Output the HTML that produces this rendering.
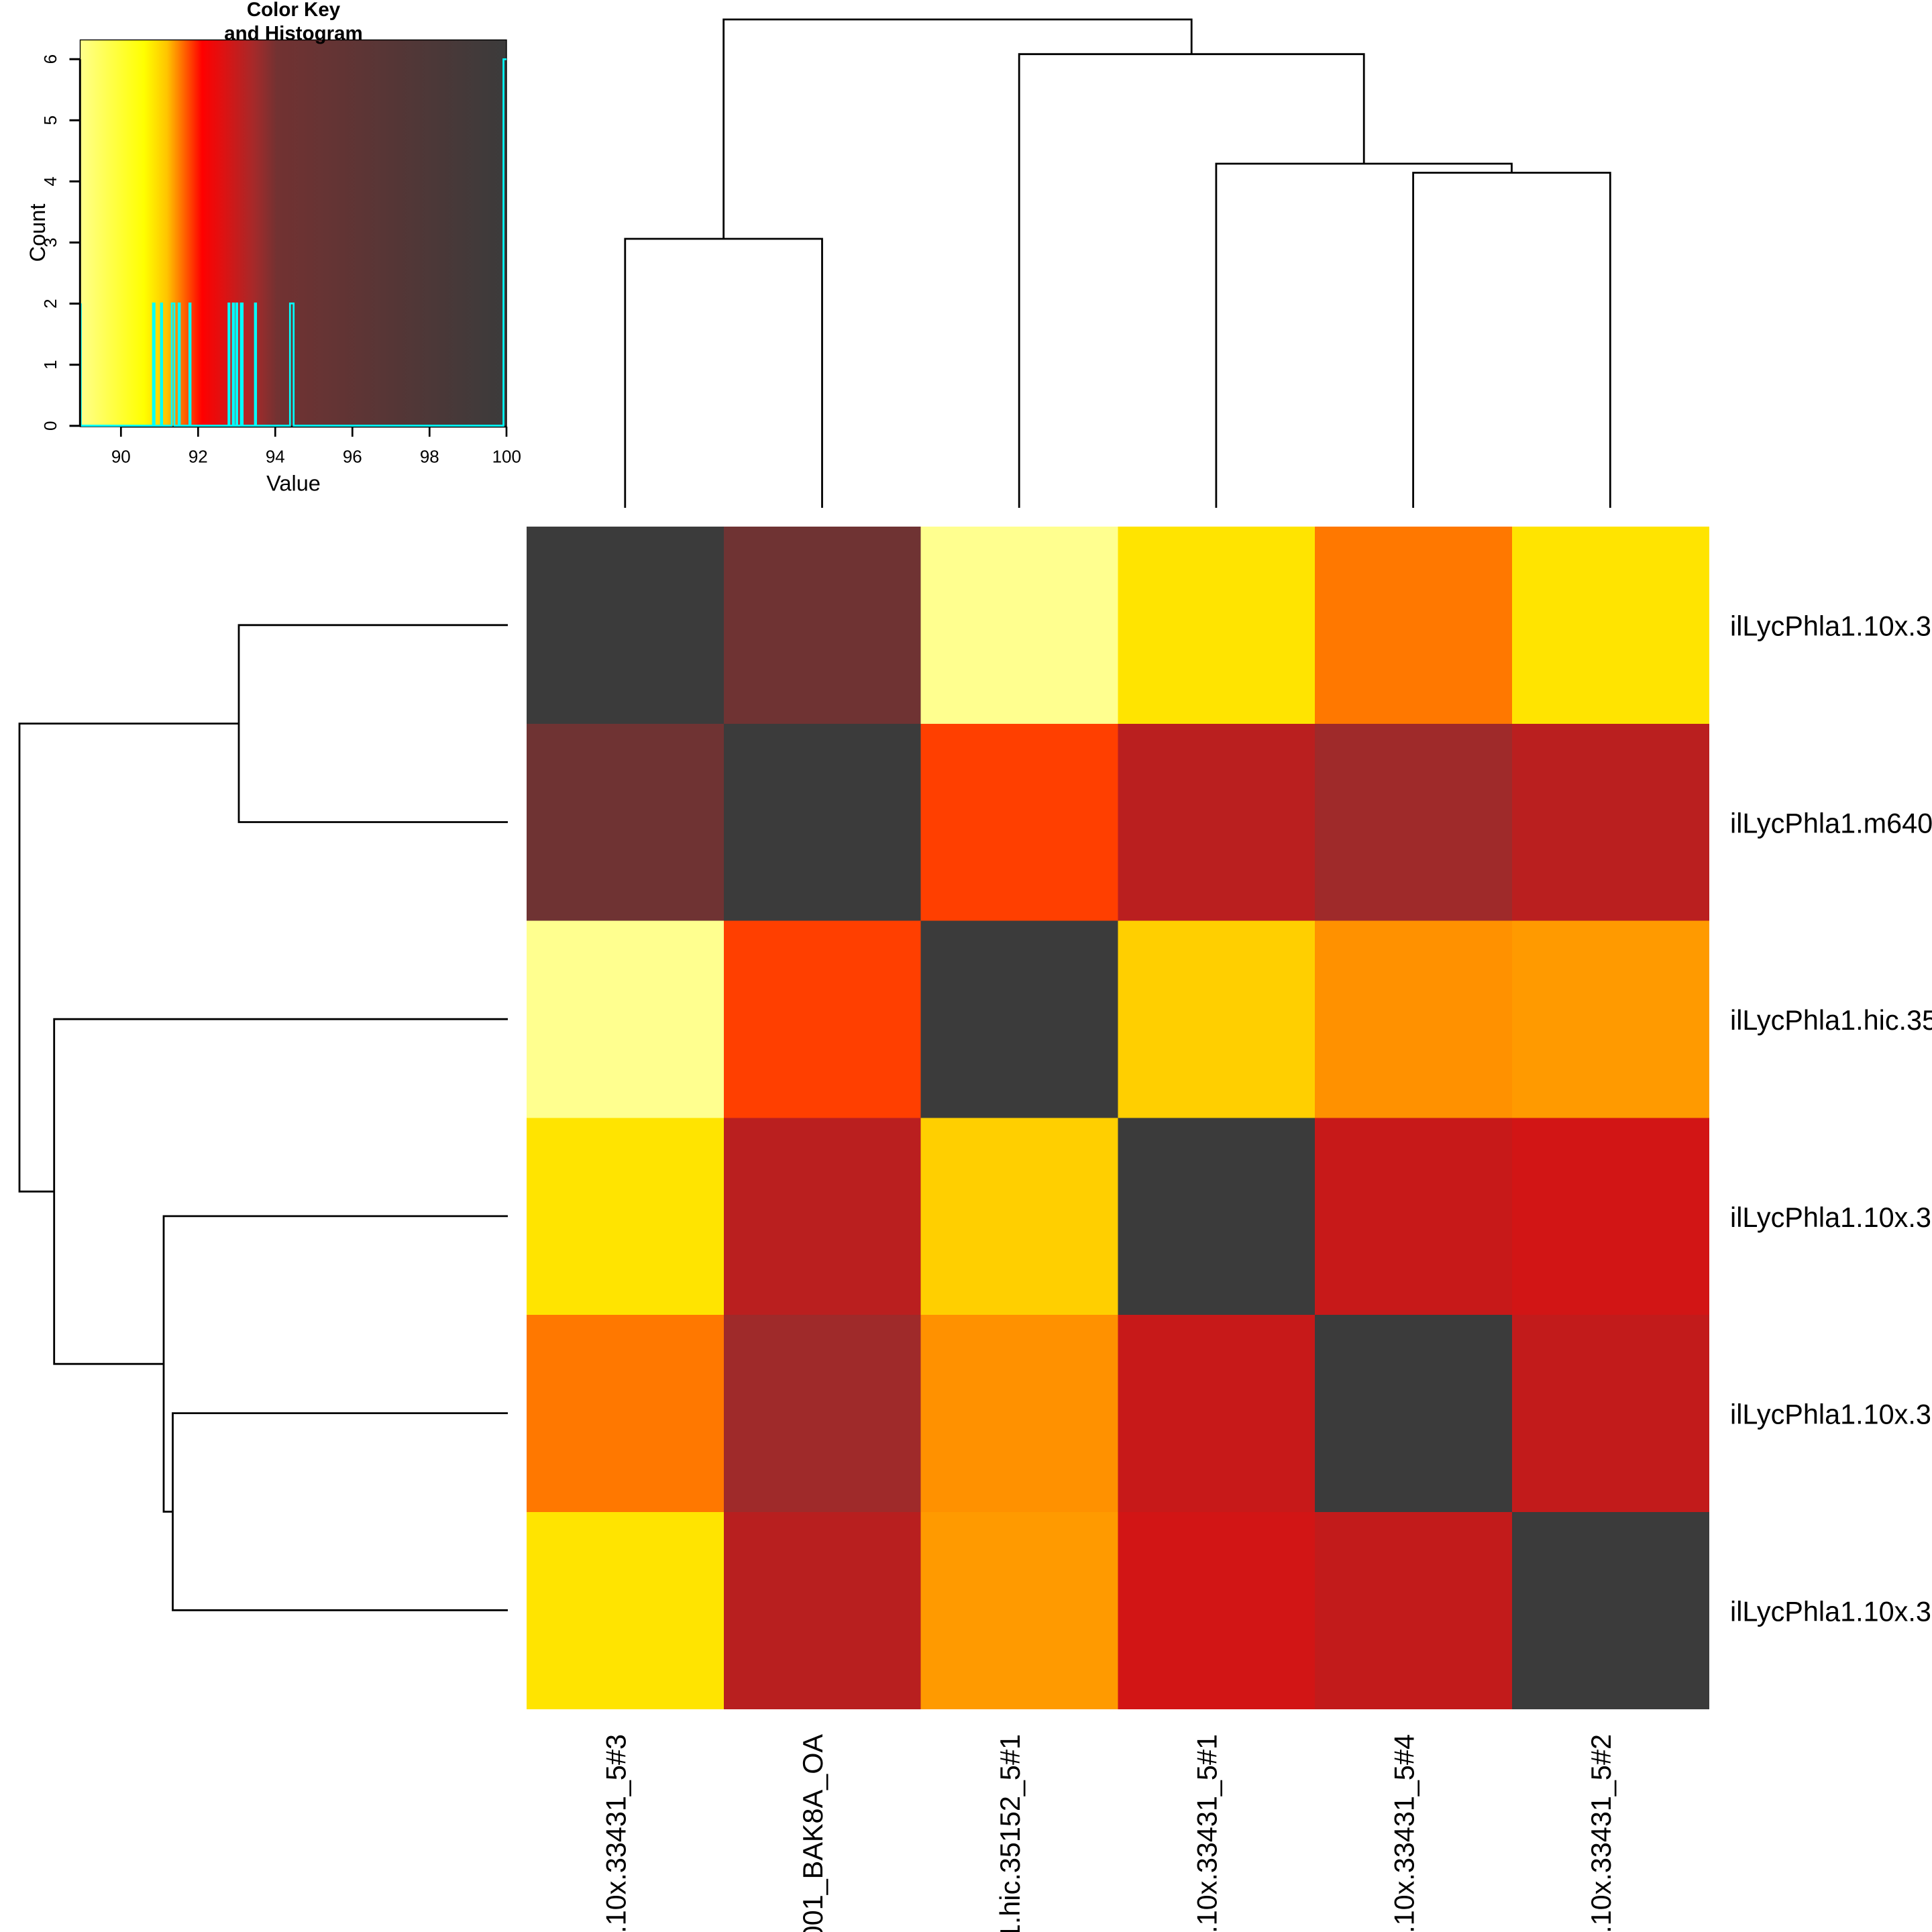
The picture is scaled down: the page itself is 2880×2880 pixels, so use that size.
<!DOCTYPE html>
<html>
<head>
<meta charset="utf-8">
<style>
html,body{margin:0;padding:0;background:#fff;}
body{width:2880px;height:2880px;overflow:hidden;}
svg{display:block;overflow:hidden;}
text{font-family:"Liberation Sans",Arial,sans-serif;fill:#000;}
</style>
</head>
<body>
<svg width="2880" height="2880" viewBox="0 0 2880 2880" xmlns="http://www.w3.org/2000/svg">
<defs>
<linearGradient id="key" x1="0" y1="0" x2="1" y2="0">
<stop offset="0" stop-color="#FFFF8C"/>
<stop offset="0.15" stop-color="#FFFF00"/>
<stop offset="0.204" stop-color="#FFC400"/>
<stop offset="0.243" stop-color="#FF6600"/>
<stop offset="0.286" stop-color="#FF0000"/>
<stop offset="0.336" stop-color="#DE1212"/>
<stop offset="0.408" stop-color="#A52A2A"/>
<stop offset="0.462" stop-color="#723232"/>
<stop offset="0.73" stop-color="#563636"/>
<stop offset="1" stop-color="#3B3B3B"/>
</linearGradient>
<clipPath id="page"><rect x="0" y="0" width="2880" height="2880"/></clipPath>
</defs>
<rect width="2880" height="2880" fill="#fff"/>

<!-- Color key -->
<rect x="119.5" y="59.5" width="635.5" height="576.5" fill="url(#key)"/>
<rect x="119.5" y="59.5" width="635.5" height="576.5" fill="none" stroke="#000" stroke-width="1.4"/>
<!-- x axis -->
<g stroke="#000" stroke-width="2.7" fill="none">
<line x1="180.3" y1="636" x2="755" y2="636"/>
<line x1="180.3" y1="636" x2="180.3" y2="651"/>
<line x1="295.3" y1="636" x2="295.3" y2="651"/>
<line x1="410.3" y1="636" x2="410.3" y2="651"/>
<line x1="525.3" y1="636" x2="525.3" y2="651"/>
<line x1="640.3" y1="636" x2="640.3" y2="651"/>
<line x1="755" y1="636" x2="755" y2="651"/>
</g>
<!-- histogram -->
<path fill="none" stroke="#00FFFF" stroke-width="2.7" stroke-linejoin="miter"
d="M120.5,452.3 V634.5 H228 V452.3 H230.4 V634.5 H240 V452.3 H241.7 V634.5 H256 V452.3 H260 V634.5 H266.3 V452.3 H268 V634.5 H282.3 V452.3 H284 V634.5 H340.6 V452.3 H342 V634.5 H347 V452.3 H348.7 V634.5 H352 V452.3 H353.7 V634.5 H359 V452.3 H361.7 V634.5 H380 V452.3 H381.7 V634.5 H432.3 V452.3 H437.7 V634.5 H750.5 V88.3 H755"/>
<!-- y axis (drawn over histogram) -->
<g stroke="#000" stroke-width="3" fill="none">
<line x1="119.3" y1="88.2" x2="119.3" y2="636"/>
<line x1="103.5" y1="634.8" x2="119.3" y2="634.8"/>
<line x1="103.5" y1="543.7" x2="119.3" y2="543.7"/>
<line x1="103.5" y1="452.6" x2="119.3" y2="452.6"/>
<line x1="103.5" y1="361.5" x2="119.3" y2="361.5"/>
<line x1="103.5" y1="270.4" x2="119.3" y2="270.4"/>
<line x1="103.5" y1="179.3" x2="119.3" y2="179.3"/>
<line x1="103.5" y1="88.2" x2="119.3" y2="88.2"/>
</g>
<!-- y tick labels -->
<g font-size="26" text-anchor="middle">
<text transform="translate(84,634.8) rotate(-90)">0</text>
<text transform="translate(84,543.7) rotate(-90)">1</text>
<text transform="translate(84,452.6) rotate(-90)">2</text>
<text transform="translate(84,361.5) rotate(-90)">3</text>
<text transform="translate(84,270.4) rotate(-90)">4</text>
<text transform="translate(84,179.3) rotate(-90)">5</text>
<text transform="translate(84,88.2) rotate(-90)">6</text>
</g>
<g font-size="26" text-anchor="middle">
<text x="180.3" y="689.3">90</text>
<text x="295.3" y="689.3">92</text>
<text x="410.3" y="689.3">94</text>
<text x="525.3" y="689.3">96</text>
<text x="640.3" y="689.3">98</text>
<text x="755.3" y="689.3">100</text>
</g>
<text x="437.5" y="731.7" font-size="32.5" text-anchor="middle">Value</text>
<text transform="translate(67,347) rotate(-90)" font-size="32.5" text-anchor="middle">Count</text>
<text x="437.5" y="24" font-size="29.5" font-weight="bold" text-anchor="middle">Color Key</text>
<text x="437.5" y="59.5" font-size="29.5" font-weight="bold" text-anchor="middle">and Histogram</text>

<!-- Heatmap -->
<g shape-rendering="crispEdges">
<rect x="785" y="785" width="294.3" height="294.3" fill="#3B3B3B"/>
<rect x="1078.8" y="785" width="294.3" height="294.3" fill="#6F3333"/>
<rect x="1372.6" y="785" width="294.3" height="294.3" fill="#FFFF8F"/>
<rect x="1666.4" y="785" width="294.3" height="294.3" fill="#FFE400"/>
<rect x="1960.2" y="785" width="294.3" height="294.3" fill="#FF7800"/>
<rect x="2254" y="785" width="293.8" height="294.3" fill="#FFE400"/>

<rect x="785" y="1078.8" width="294.3" height="294.3" fill="#6F3333"/>
<rect x="1078.8" y="1078.8" width="294.3" height="294.3" fill="#3B3B3B"/>
<rect x="1372.6" y="1078.8" width="294.3" height="294.3" fill="#FF3F00"/>
<rect x="1666.4" y="1078.8" width="294.3" height="294.3" fill="#BA1F1F"/>
<rect x="1960.2" y="1078.8" width="294.3" height="294.3" fill="#9F2A2A"/>
<rect x="2254" y="1078.8" width="293.8" height="294.3" fill="#BA1F1F"/>

<rect x="785" y="1372.6" width="294.3" height="294.3" fill="#FFFF8F"/>
<rect x="1078.8" y="1372.6" width="294.3" height="294.3" fill="#FF3F00"/>
<rect x="1372.6" y="1372.6" width="294.3" height="294.3" fill="#3B3B3B"/>
<rect x="1666.4" y="1372.6" width="294.3" height="294.3" fill="#FFCF00"/>
<rect x="1960.2" y="1372.6" width="294.3" height="294.3" fill="#FF9100"/>
<rect x="2254" y="1372.6" width="293.8" height="294.3" fill="#FF9A00"/>

<rect x="785" y="1666.4" width="294.3" height="294.3" fill="#FFE400"/>
<rect x="1078.8" y="1666.4" width="294.3" height="294.3" fill="#BA1F1F"/>
<rect x="1372.6" y="1666.4" width="294.3" height="294.3" fill="#FFCF00"/>
<rect x="1666.4" y="1666.4" width="294.3" height="294.3" fill="#3B3B3B"/>
<rect x="1960.2" y="1666.4" width="294.3" height="294.3" fill="#C71919"/>
<rect x="2254" y="1666.4" width="293.8" height="294.3" fill="#D21515"/>

<rect x="785" y="1960.2" width="294.3" height="294.3" fill="#FF7800"/>
<rect x="1078.8" y="1960.2" width="294.3" height="294.3" fill="#9F2A2A"/>
<rect x="1372.6" y="1960.2" width="294.3" height="294.3" fill="#FF9100"/>
<rect x="1666.4" y="1960.2" width="294.3" height="294.3" fill="#C71919"/>
<rect x="1960.2" y="1960.2" width="294.3" height="294.3" fill="#3B3B3B"/>
<rect x="2254" y="1960.2" width="293.8" height="294.3" fill="#C21B1B"/>

<rect x="785" y="2254" width="294.3" height="293.8" fill="#FFE400"/>
<rect x="1078.8" y="2254" width="294.3" height="293.8" fill="#B81F1F"/>
<rect x="1372.6" y="2254" width="294.3" height="293.8" fill="#FF9A00"/>
<rect x="1666.4" y="2254" width="294.3" height="293.8" fill="#D21515"/>
<rect x="1960.2" y="2254" width="294.3" height="293.8" fill="#C21B1B"/>
<rect x="2254" y="2254" width="293.8" height="293.8" fill="#3B3B3B"/>
</g>

<!-- Column dendrogram -->
<g fill="none" stroke="#000" stroke-width="2.8" stroke-linejoin="miter">
<path d="M931.8,757 V356 H1225.5 V757"/>
<path d="M2106.6,757 V257.5 H2400.3 V757"/>
<path d="M1812.9,757 V244 H2253.45 V257.5"/>
<path d="M1519.2,757 V80.7 H2033.2 V244"/>
<path d="M1078.65,356 V29 H1776.2 V80.7"/>
</g>
<!-- Row dendrogram -->
<g fill="none" stroke="#000" stroke-width="2.8" stroke-linejoin="miter">
<path d="M757,931.8 H356 V1225.5 H757"/>
<path d="M757,2106.6 H257.5 V2400.3 H757"/>
<path d="M757,1812.9 H244 V2253.45 H257.5"/>
<path d="M757,1519.2 H80.7 V2033.2 H244"/>
<path d="M356,1078.65 H29 V1776.2 H80.7"/>
</g>

<g clip-path="url(#page)">
<!-- Row labels -->
<g font-size="41.4">
<text x="2579" y="947.5">ilLycPhla1.10x.33431_5#3</text>
<text x="2579" y="1241.3">ilLycPhla1.m64001_BAK8A_OA</text>
<text x="2579" y="1535">ilLycPhla1.hic.35152_5#1</text>
<text x="2579" y="1828.8">ilLycPhla1.10x.33431_5#1</text>
<text x="2579" y="2122.5">ilLycPhla1.10x.33431_5#4</text>
<text x="2579" y="2416.3">ilLycPhla1.10x.33431_5#2</text>
</g>
<!-- Column labels -->
<g font-size="41.4" text-anchor="end">
<text transform="translate(932.5,2585) rotate(-90)">ilLycPhla1.10x.33431_5#3</text>
<text transform="translate(1226.2,2585) rotate(-90)">ilLycPhla1.m64001_BAK8A_OA</text>
<text transform="translate(1520,2585) rotate(-90)">ilLycPhla1.hic.35152_5#1</text>
<text transform="translate(1813.7,2585) rotate(-90)">ilLycPhla1.10x.33431_5#1</text>
<text transform="translate(2107.4,2585) rotate(-90)">ilLycPhla1.10x.33431_5#4</text>
<text transform="translate(2401.1,2585) rotate(-90)">ilLycPhla1.10x.33431_5#2</text>
</g>
</g>
</svg>
</body>
</html>
